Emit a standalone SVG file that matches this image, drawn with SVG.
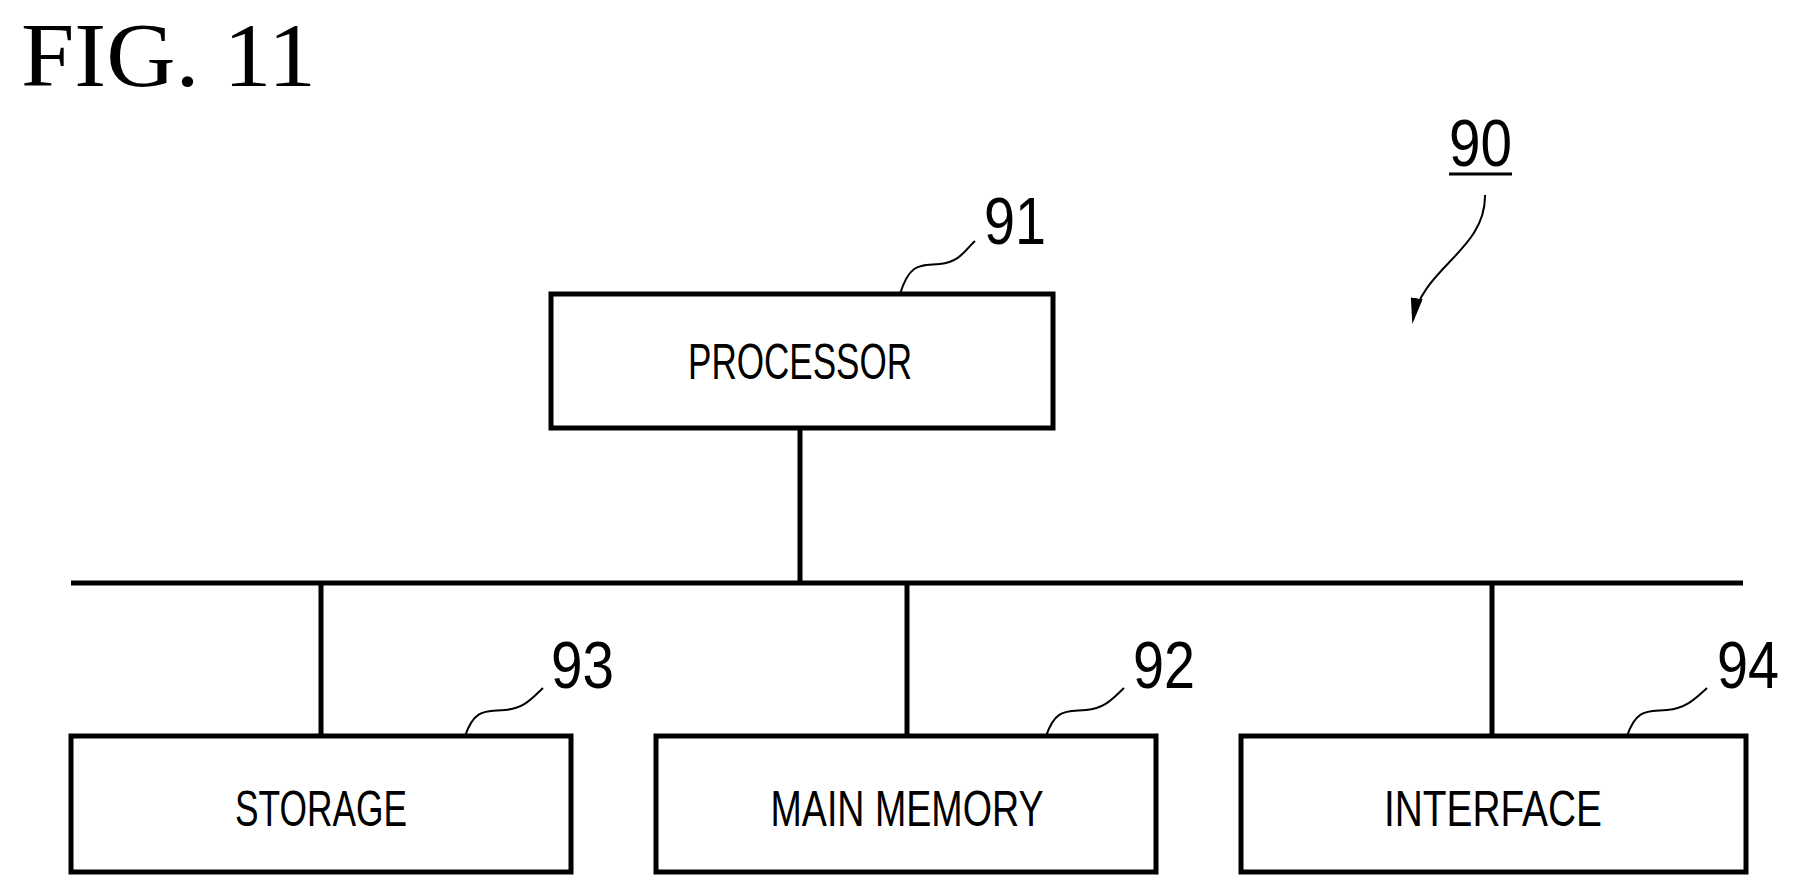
<svg xmlns="http://www.w3.org/2000/svg" width="1799" height="896" viewBox="0 0 1799 896">
<style>
.b{fill:#fff;stroke:#000;stroke-width:5}
.l{fill:none;stroke:#000;stroke-width:5}
.t{fill:none;stroke:#000;stroke-width:2}
.lab{font-family:"Liberation Sans",sans-serif;font-size:50px;text-anchor:middle}
.num{font-family:"Liberation Sans",sans-serif;font-size:66px}
</style>
<defs><marker id="a" markerWidth="26" markerHeight="12" refX="22" refY="6" orient="auto" markerUnits="userSpaceOnUse"><path d="M0,0 L26,6 L0,12 Z" fill="#000"/></marker></defs>
<rect width="1799" height="896" fill="#fff"/>
<text x="21" y="86" font-family="Liberation Serif,serif" font-size="92" textLength="295" lengthAdjust="spacingAndGlyphs">FIG. 11</text>
<text class="num" x="1449" y="166" textLength="63" lengthAdjust="spacingAndGlyphs">90</text>
<line x1="1449" y1="174" x2="1512" y2="174" stroke="#000" stroke-width="3"/>
<g id="connectors">
<path class="t" d="M1485,195 C1486,250 1422,268 1413,320" marker-end="url(#a)"/>
<line class="l" x1="800" y1="428" x2="800" y2="583"/>
<line class="l" x1="71" y1="583" x2="1743" y2="583"/>
<line class="l" x1="321" y1="583" x2="321" y2="736"/>
<line class="l" x1="907" y1="583" x2="907" y2="736"/>
<line class="l" x1="1492" y1="583" x2="1492" y2="736"/>
</g>
<g id="n91">
<rect class="b" x="551" y="294" width="502" height="134"/>
<text class="lab" x="800" y="379" textLength="224" lengthAdjust="spacingAndGlyphs">PROCESSOR</text>
<path class="t" d="M900,294 C910,262 920,266 940,264 C960,262 965,250 975,241"/>
<text class="num" x="984" y="244" textLength="62" lengthAdjust="spacingAndGlyphs">91</text>
</g>
<g id="n93">
<rect class="b" x="71" y="736" width="500" height="136"/>
<text class="lab" x="321" y="826" textLength="172" lengthAdjust="spacingAndGlyphs">STORAGE</text>
<path class="t" d="M465,736 C475,708 485,712 505,710 C525,708 532,698 543,688"/>
<text class="num" x="551" y="688" textLength="63" lengthAdjust="spacingAndGlyphs">93</text>
</g>
<g id="n92">
<rect class="b" x="656" y="736" width="500" height="136"/>
<text class="lab" x="907" y="826" textLength="273" lengthAdjust="spacingAndGlyphs">MAIN MEMORY</text>
<path class="t" d="M1046,736 C1056,708 1066,712 1086,710 C1106,708 1113,698 1124,688"/>
<text class="num" x="1133" y="688" textLength="62" lengthAdjust="spacingAndGlyphs">92</text>
</g>
<g id="n94">
<rect class="b" x="1241" y="736" width="505" height="136"/>
<text class="lab" x="1493" y="826" textLength="218" lengthAdjust="spacingAndGlyphs">INTERFACE</text>
<path class="t" d="M1627,736 C1637,708 1647,712 1667,710 C1687,708 1696,698 1707,688"/>
<text class="num" x="1717" y="688" textLength="62" lengthAdjust="spacingAndGlyphs">94</text>
</g>
</svg>
